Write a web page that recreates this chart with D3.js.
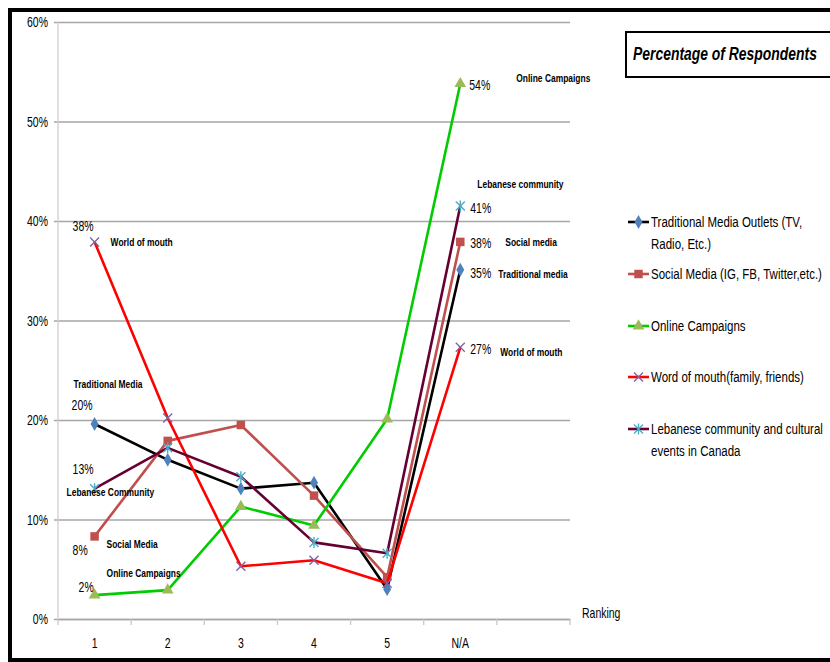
<!DOCTYPE html>
<html>
<head>
<meta charset="utf-8">
<script src="https://cdn.jsdelivr.net/npm/d3@7"></script>
<style>
  body { margin: 0; background: #fff; }
  svg text { font-family: "Liberation Sans", Arial, sans-serif; fill: #000; }
</style>
</head>
<body>
<div id="chart"></div>
<script>
// chart data (percent of respondents)
const categories = ["1", "2", "3", "4", "5", "N/A", ""];
const ranks = ["1", "2", "3", "4", "5", "N/A"];
const traditional = [19.6, 16.0, 13.1, 13.7, 3.0, 35.1];
const social = [8.3, 17.9, 19.5, 12.4, 4.2, 37.9];
const online = [2.4, 2.9, 11.3, 9.4, 20.1, 53.8];
const wordOfMouth = [37.9, 20.2, 5.3, 5.9, 3.6, 27.3];
const lebanese = [13.1, 17.2, 14.3, 7.7, 6.6, 41.5];
const yTicks = [0, 10, 20, 30, 40, 50, 60];

const seriesNames = [
    ["Traditional Media Outlets (TV,", "Radio, Etc.)"],
    ["Social Media (IG, FB, Twitter,etc.)"],
    ["Online Campaigns"],
    ["Word of mouth(family, friends)"],
    ["Lebanese community and cultural", "events in Canada"]
];

// data labels: series index, category, text
const pctLabels = [
    [3, "1", "38%"], [0, "1", "20%"], [4, "1", "13%"], [1, "1", "8%"], [2, "1", "2%"],
    [2, "N/A", "54%"], [4, "N/A", "41%"], [1, "N/A", "38%"], [0, "N/A", "35%"], [3, "N/A", "27%"]
];
const nameLabels = [
    [3, "1", "World of mouth"], [0, "1", "Traditional Media"], [4, "1", "Lebanese Community"],
    [1, "1", "Social Media"], [2, "1", "Online Campaigns"],
    [2, "N/A", "Online Campaigns"], [4, "N/A", "Lebanese community"], [1, "N/A", "Social media"],
    [0, "N/A", "Traditional media"], [3, "N/A", "World of mouth"]
];

const width = 830, height = 662;

let svg = d3.select("#chart")
    .append("svg")
    .attr("width", width)
    .attr("height", height);

// the original font is a narrow one: squeeze each text group horizontally so
// that a sample string gets the width it has in the picture
function squeeze(sel, sample, target) {
    let f = 1;
    sel.each(function() {
        if (this.textContent === sample) f = target / this.getComputedTextLength();
    });
    sel.each(function() {
        let t = d3.select(this);
        let x = +t.attr("x") || 0, y = +t.attr("y") || 0;
        let anchor = t.attr("text-anchor") || getComputedStyle(this).textAnchor;
        t.attr("x", 0).attr("y", 0)
            .attr("transform", `translate(${x},${y}) scale(${f},1)`);
    });
}

// outer frame
svg.append("rect")
    .attr("x", 10).attr("y", 10)
    .attr("width", 840).attr("height", 650)
    .attr("fill", "none")
    .attr("stroke", "#000")
    .attr("stroke-width", 4);

let xScale = d3.scaleBand()
    .domain(categories)
    .range([58, 570]);

let yScale = d3.scaleLinear()
    .domain([0, 60])
    .range([619, 22]);

let px = c => xScale(c) + xScale.bandwidth() / 2;

// gridlines + y axis
let leftAxis = d3.axisLeft(yScale)
    .tickValues(yTicks)
    .tickFormat(d => d + "%")
    .tickSize(-(570 - 58))
    .tickPadding(10);

let yAxisG = svg.append("g")
    .attr("transform", "translate(58,0)")
    .call(leftAxis);
yAxisG.select(".domain").remove();
yAxisG.selectAll(".tick line")
    .attr("x1", -4)
    .attr("stroke", "#a6a6a6")
    .attr("stroke-width", 1.3);

svg.append("line")
    .attr("x1", 58).attr("x2", 58)
    .attr("y1", yScale(60)).attr("y2", yScale(0))
    .attr("stroke", "#d0d0d0")
    .attr("stroke-width", 1.3);

// x axis
let bottomAxis = d3.axisBottom(xScale).tickSize(0).tickPadding(16);
let xAxisG = svg.append("g")
    .attr("transform", `translate(0,${yScale(0)})`)
    .call(bottomAxis);
xAxisG.select(".domain").attr("stroke", "#a6a6a6").attr("stroke-width", 1.3);
xAxisG.selectAll(".bound")
    .data(categories.concat(["end"]))
    .join("line")
    .attr("x1", (d, i) => 58 + i * xScale.bandwidth())
    .attr("x2", (d, i) => 58 + i * xScale.bandwidth())
    .attr("y1", 0).attr("y2", 6)
    .attr("stroke", "#c8c8c8")
    .attr("stroke-width", 1.3);

svg.selectAll(".tick text")
    .attr("font-family", null)
    .attr("font-size", null)
    .style("font-size", "14px");

// y tick labels: keep them right-aligned after squeezing
yAxisG.selectAll(".tick text").attr("x", -10).attr("dy", "0.35em");
xAxisG.selectAll(".tick text").attr("y", 19).attr("dy", "0.71em");

svg.append("text")
    .attr("class", "rank")
    .attr("x", 582).attr("y", 613)
    .attr("dy", "0.35em")
    .style("font-size", "14px")
    .text("Ranking");

function squeezeAll(sel, f) {
    sel.each(function() {
        let t = d3.select(this);
        let x = +t.attr("x") || 0, y = +t.attr("y") || 0;
        t.attr("x", 0).attr("y", 0)
            .attr("transform", `translate(${x},${y}) scale(${f},1)`);
    });
}
// factor from "60%" which is 21px wide in the picture
let axisF = 1;
yAxisG.selectAll(".tick text").each(function() {
    if (this.textContent === "60%") axisF = 21 / this.getComputedTextLength();
});
squeezeAll(svg.selectAll(".tick text, .rank"), axisF);

// marker drawing helpers
const markerColors = ["#4f81bd", "#c0504d", "#9bbb59", "#8064a2", "#4bacc6"];
const lineColors = ["#000000", "#c0504d", "#00cc00", "#ff0000", "#660033"];
const allSeries = [traditional, social, online, wordOfMouth, lebanese];

function drawMarker(g, k, x, y) {
    if (k === 0) {
        g.append("path").attr("d", d3.symbol(d3.symbolDiamond, 55)())
            .attr("transform", `translate(${x},${y})`).attr("fill", markerColors[k]);
    } else if (k === 1) {
        g.append("path").attr("d", d3.symbol(d3.symbolSquare, 72)())
            .attr("transform", `translate(${x},${y})`).attr("fill", markerColors[k]);
    } else if (k === 2) {
        g.append("path").attr("d", d3.symbol(d3.symbolTriangle, 60)())
            .attr("transform", `translate(${x},${y})`).attr("fill", markerColors[k]);
    } else if (k === 3) {
        g.append("path").attr("d", "M-4.5,-4.5L4.5,4.5M-4.5,4.5L4.5,-4.5")
            .attr("transform", `translate(${x},${y})`)
            .attr("stroke", markerColors[k]).attr("stroke-width", 1.4).attr("fill", "none");
    } else {
        g.append("path").attr("d", "M-4.5,-4.5L4.5,4.5M-4.5,4.5L4.5,-4.5M0,-5.5L0,5.5")
            .attr("transform", `translate(${x},${y})`)
            .attr("stroke", markerColors[k]).attr("stroke-width", 1.4).attr("fill", "none");
    }
}

// series lines and markers
let line = d3.line()
    .x((d, i) => px(ranks[i]))
    .y(d => yScale(d));

allSeries.forEach((values, k) => {
    let g = svg.append("g");
    g.append("path")
        .datum(values)
        .attr("d", line)
        .attr("fill", "none")
        .attr("stroke", lineColors[k])
        .attr("stroke-width", 2.6)
        .attr("stroke-linejoin", "round");
    values.forEach((v, i) => drawMarker(g, k, px(ranks[i]), yScale(v)));
});

// data labels, offset from their points
const pctOffsets = [[-22, -16], [-23, -19], [-22, -20], [-22, 14], [-16, -8],
                    [9, 1], [10, 2], [10, 1], [10, 3], [10, 2]];
const nameOffsets = [[16, 0], [-21, -40], [-28, 3], [12, 8], [12, -22],
                     [56, -6], [17, -22], [45, 0], [38, 4], [40, 5]];

pctLabels.forEach((d, i) => {
    let [k, c, t] = d;
    let v = allSeries[k][ranks.indexOf(c)];
    svg.append("text")
        .attr("class", "pct")
        .attr("x", px(c) + pctOffsets[i][0])
        .attr("y", yScale(v) + pctOffsets[i][1])
        .attr("dy", "0.35em")
        .style("font-size", "14px")
        .text(t);
});
squeeze(svg.selectAll(".pct"), "20%", 21);

nameLabels.forEach((d, i) => {
    let [k, c, t] = d;
    let v = allSeries[k][ranks.indexOf(c)];
    svg.append("text")
        .attr("class", "name")
        .attr("x", px(c) + nameOffsets[i][0])
        .attr("y", yScale(v) + nameOffsets[i][1])
        .attr("dy", "0.35em")
        .style("font-size", "11px")
        .style("font-weight", "bold")
        .text(t);
});
squeeze(svg.selectAll(".name"), "Traditional Media", 69);

// title box
svg.append("rect")
    .attr("x", 626).attr("y", 32)
    .attr("width", 220).attr("height", 45)
    .attr("fill", "#fff")
    .attr("stroke", "#000")
    .attr("stroke-width", 2);
svg.append("text")
    .attr("class", "title")
    .attr("x", 633).attr("y", 54)
    .attr("dy", "0.35em")
    .style("font-size", "18px")
    .style("font-weight", "bold")
    .style("font-style", "italic")
    .text("Percentage of Respondents");
squeeze(svg.selectAll(".title"), "Percentage of Respondents", 184);

// legend
const legendY = [222, 274, 326, 377, 429];
allSeries.forEach((values, k) => {
    let g = svg.append("g");
    let y = legendY[k];
    g.append("line")
        .attr("x1", 628).attr("x2", 649)
        .attr("y1", y).attr("y2", y)
        .attr("stroke", lineColors[k])
        .attr("stroke-width", 2.6);
    drawMarker(g, k, 638.5, y);
    seriesNames[k].forEach((t, j) => {
        g.append("text")
            .attr("class", "leg")
            .attr("x", 651)
            .attr("y", y + j * 22)
            .attr("dy", "0.35em")
            .style("font-size", "15px")
            .text(t);
    });
});
squeeze(svg.selectAll(".leg"), "Social Media (IG, FB, Twitter,etc.)", 171);
</script>
</body>
</html>
